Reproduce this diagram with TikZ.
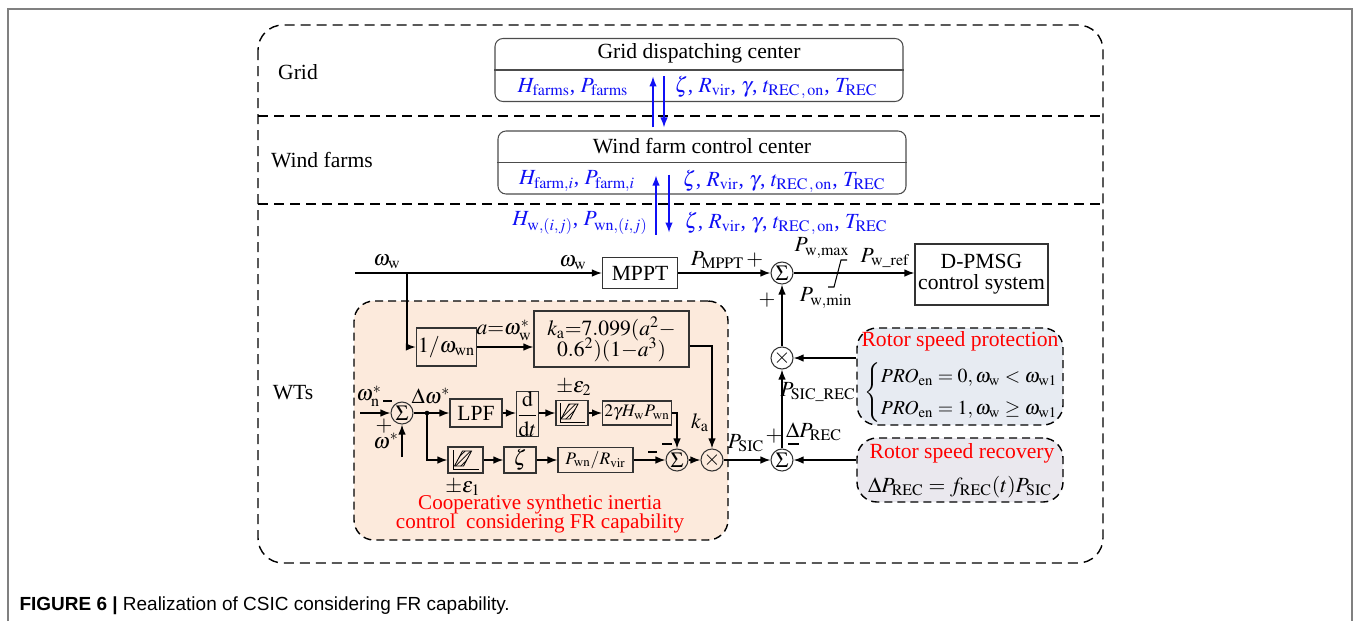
\documentclass[tikz,border=0pt]{standalone}
\usepackage{amsmath}
\usepackage{mathptmx}
\usepackage{fontspec}
\setmainfont{Liberation Serif}
\setsansfont{Liberation Sans}
\usetikzlibrary{arrows.meta,patterns}

\definecolor{csicfill}{HTML}{FCEADC}
\definecolor{protfill}{HTML}{E7EBF2}
\definecolor{recfill}{HTML}{EAE8EE}
\definecolor{parblue}{HTML}{1010F5}
\definecolor{framegrey}{HTML}{808080}

\begin{document}
\begin{tikzpicture}[x=0.2mm, y=-0.2mm, line width=0.8pt,
    >={Latex[length=2mm,width=1.5mm]},
    font=\fontsize{12.3}{14}\selectfont,
    blk/.style={draw=black!80, line width=0.6pt, inner sep=1pt, align=center},
    sumnode/.style={circle, draw=black!80, line width=0.6pt, minimum size=4.4mm, inner sep=0pt},
    centrebox/.style={draw=black!70, line width=0.6pt, rounded corners=1.6mm, minimum width=81.6mm, minimum height=12.6mm},
    zone/.style={dash pattern=on 2mm off 1.2mm, line width=0.8pt},
    areabox/.style={draw, dash pattern=on 1.6mm off 1mm, line width=0.8pt, rounded corners=4mm},
    param/.style={text=parblue},
    small/.style={font=\fontsize{10}{12}\selectfont},
    lbl/.style={inner sep=1pt},
    redtxt/.style={text=red, align=center, inner sep=1pt}]
    \useasboundingbox (0,0) rectangle (1356,621);

    % Page frame and caption
    \draw[framegrey, line width=0.3mm] (8,621) -- (8,9) -- (1352,9) -- (1352,621);
    \node[anchor=west, font=\sffamily\fontsize{10.8}{13}\selectfont] (caption) at (13,606)
        {\textbf{FIGURE 6 |} Realization of CSIC considering FR capability.};

    % Levels
    \draw[zone, rounded corners=5mm] (258,25) rectangle (1103,563);
    \draw[zone] (258,116) -- (1103,116);
    \draw[zone] (258,204) -- (1103,204);
    \node (lblgrid) at (298,72) {Grid};
    \node (lblfarms) at (322,160) {Wind farms};
    \node (lblwts) at (293,393) {WTs};

    % Dispatching and control centres
    \node[centrebox] (gdc) at (699,70) {};
    \node[centrebox] (wfc) at (702,162.5) {};
    \draw[black!70, line width=0.6pt] (gdc.west) -- (gdc.east);
    \draw[black!70, line width=0.6pt] (wfc.west) -- (wfc.east);
    \node (gdctitle) at (699,53) {Grid dispatching center};
    \node (wfctitle) at (702,146) {Wind farm control center};
    \node[param] (gdcup) at (573,87) {$H_{\mathrm{farms}}$, $P_{\mathrm{farms}}$};
    \node[param] (gdcdown) at (776,87) {$\zeta$, $R_{\mathrm{vir}}$, $\gamma$, $t_{\mathrm{REC\,,\,on}}$, $T_{\mathrm{REC}}$};
    \node[param] (wfcup) at (577,181) {$H_{\mathrm{farm},i}$, $P_{\mathrm{farm},i}$};
    \node[param] (wfcdown) at (784,181) {$\zeta$, $R_{\mathrm{vir}}$, $\gamma$, $t_{\mathrm{REC\,,\,on}}$, $T_{\mathrm{REC}}$};
    \node[param] (wtup) at (580,223) {$H_{\mathrm{w},(i,j)}$, $P_{\mathrm{wn},(i,j)}$};
    \node[param] (wtdown) at (786,223) {$\zeta$, $R_{\mathrm{vir}}$, $\gamma$, $t_{\mathrm{REC\,,\,on}}$, $T_{\mathrm{REC}}$};
    \draw[->, parblue] ([xshift=-9.8mm,yshift=0.6mm]wfc.north) -- ++(0,-51);
    \draw[<-, parblue] ([xshift=-7.6mm,yshift=0.6mm]wfc.north) -- ++(0,-51);
    \draw[->, parblue] ([xshift=-9.2mm,yshift=-8mm]wfc.south) -- ++(0,-59);
    \draw[->, parblue] ([xshift=-6.6mm,yshift=4mm]wfc.south) -- ++(0,58);

    % Areas
    \node[areabox, fill=csicfill, minimum width=74.8mm, minimum height=47.8mm] (csic) at (541,420.5) {};
    \node[areabox, fill=protfill, minimum width=41.2mm, minimum height=19.4mm] (prot) at (960,376.5) {};
    \node[areabox, fill=recfill, minimum width=41.2mm, minimum height=12.8mm] (rec) at (960,470) {};
    \node[redtxt] (prottitle) at (960,341) {Rotor speed protection};
    \node[inner sep=0pt, font=\fontsize{11.3}{13}\selectfont] (protcases) at (962,392)
        {$\left\{\def\arraystretch{1.4}\begin{array}{@{}l@{}}
            PRO_{\mathrm{en}} = 0, \omega_{\mathrm{w}} < \omega_{\mathrm{w1}} \\
            PRO_{\mathrm{en}} = 1, \omega_{\mathrm{w}} \geq \omega_{\mathrm{w1}}
         \end{array}\right.$};
    \node[redtxt] (rectitle) at (962,453) {Rotor speed recovery};
    \node[lbl] (receq) at (960,487) {$\Delta P_{\mathrm{REC}} = f_{\mathrm{REC}}(t)P_{\mathrm{SIC}}$};
    \node[redtxt, font=\fontsize{12}{11}\selectfont] (csictitle) at (540,514)
        {Cooperative synthetic inertia\\control\ \ considering FR capability};

    % Blocks
    \coordinate (win) at (355,273);
    \coordinate (wbr) at (407,273);
    \node[blk, minimum width=15mm, minimum height=6.2mm] (mppt) at (640,273) {MPPT};
    \node[sumnode] (sum1) at (782,273) {$\Sigma$};
    \node[blk, minimum width=26.6mm, minimum height=12.2mm] (dpmsg) at (981.5,274.5) {D-PMSG\\[-2pt]control system};
    \node[sumnode] (mulp) at (782,358) {$\times$};
    \node[sumnode] (sum3) at (782,460) {$\Sigma$};
    \node[sumnode] (mulk) at (712,460) {$\times$};
    \node[blk, minimum width=9.8mm, minimum height=7.6mm] (inv) at (446.5,347) {$1/\omega_{\mathrm{wn}}$};
    \node[blk, minimum width=31mm, minimum height=11.2mm] (ka) at (611.5,339)
        {$k_{\mathrm{a}}{=}7.099(a^{2}{-}$\\[-2pt]$0.6^{2})(1{-}a^{3})$};
    \coordinate (wn) at (360,413);
    \coordinate (wr) at (402,457);
    \coordinate (tap) at (427,413);
    \node[sumnode] (sin) at (402,413) {$\Sigma$};
    \node[blk, minimum width=10.4mm, minimum height=5.6mm] (lpf) at (476,413) {LPF};
    \node[blk, minimum width=4.2mm, minimum height=7.8mm, inner sep=0pt] (ddt) at (527.5,414)
        {$\displaystyle\frac{\mathrm{d}}{\mathrm{d}t}$};
    \node[blk, minimum width=6.4mm, minimum height=5mm] (db2) at (572,413) {};
    \node[blk, small, minimum width=12.8mm, minimum height=4.8mm] (gam) at (637,413) {$2\gamma H_{\mathrm{w}}P_{\mathrm{wn}}$};
    \node[blk, minimum width=7mm, minimum height=5.2mm] (db1) at (465.5,460) {};
    \node[blk, minimum width=6.4mm, minimum height=5.2mm] (zeta) at (520,460) {$\zeta$};
    \node[blk, small, minimum width=15mm, minimum height=5mm] (pr) at (595.5,460) {$P_{\mathrm{wn}}/R_{\mathrm{vir}}$};
    \node[sumnode] (sout) at (677,460) {$\Sigma$};

    % Dead-band symbols
    \foreach \db in {db1,db2} {
        \begin{scope}[shift={(\db.center)}, line width=0.5pt]
            \draw (-12,-10) -- (-12,9) -- (13,9);
            \draw[pattern=north east lines] (-11,6) -- (-3,-9) -- (6,-9) -- (-2,6) -- cycle;
        \end{scope}
    }

    % Limiter
    \draw[line width=0.6pt] (828,287) -- (834,287) -- (841,260) -- (847,260);

    % Signal lines
    \draw[->] (win) -- (mppt);
    \draw[->] (mppt) -- (sum1);
    \draw[->] (sum1) -- (sum1 -| dpmsg.west);
    \draw[->] (mulp) -- (sum1);
    \draw[->] (prot.west |- mulp) -- (mulp);
    \draw[->] (sum3) -- (mulp);
    \draw[->] (rec.west |- sum3) -- (sum3);
    \draw[->] (mulk) -- (sum3);
    \draw[->] ([yshift=-1.4mm]ka.east) -| (mulk);
    \draw[->] (wbr) |- (inv);
    \draw[->] (inv) -- (inv -| ka.west);
    \draw[->] (wn) -- (sin);
    \draw[->] (wr) -- (sin);
    \draw[->] (sin) -- (lpf);
    \draw[->] (lpf) -- (ddt.west |- lpf);
    \draw[->] (ddt.east |- db2) -- (db2);
    \draw[->] (db2) -- (gam);
    \draw[->] (gam.east) -| (sout);
    \fill (tap) circle (1.3pt);
    \draw[->] (tap) |- (db1);
    \draw[->] (db1) -- (zeta);
    \draw[->] (zeta) -- (pr);
    \draw[->] (pr) -- (sout);
    \draw[->] (sout) -- (mulk);

    % Signal labels
    \node[lbl] (lwin) at (387,262) {$\omega_{\mathrm{w}}$};
    \node[lbl] (lwm) at (573,263) {$\omega_{\mathrm{w}}$};
    \node[lbl] (lmppt) at (727,260) {$P_{\mathrm{MPPT}}\,+$};
    \node[lbl] (lmax) at (822,248) {$P_{\mathrm{w,max}}$};
    \node[lbl] (lmin) at (826,298) {$P_{\mathrm{w,min}}$};
    \node[lbl] (lref) at (885,258) {$P_{\mathrm{w\_ref}}$};
    \node[lbl] (lplus1) at (767,300) {$+$};
    \node[lbl] (lsicrec) at (818,392) {$P_{\mathrm{SIC\_REC}}$};
    \node[lbl] (lsic) at (746,443) {$P_{\mathrm{SIC}}$};
    \node[lbl] (lplus2) at (774,436) {$+$};
    \node[lbl] (ldrec) at (814,432) {$\Delta P_{\mathrm{REC}}$};
    \node[lbl] (la) at (504,330) {$a{=}\omega_{\mathrm{w}}^{*}$};
    \node[lbl] (lka) at (700,423) {$k_{\mathrm{a}}$};
    \node[lbl] (lwn) at (369,396) {$\omega_{\mathrm{n}}^{*}$};
    \node[lbl] (lplus3) at (384,426) {$+$};
    \node[lbl] (lwr) at (386,441) {$\omega^{*}$};
    \node[lbl] (ldw) at (431,396) {$\Delta\omega^{*}$};
    \node[lbl] (leps2) at (574,388) {$\pm\varepsilon_{2}$};
    \node[lbl] (leps1) at (463,488) {$\pm\varepsilon_{1}$};

    % Minus signs
    \draw (788,444) -- (799,444);
    \draw (383,401) -- (392,401);
    \draw (662,444) -- (672,444);
    \draw (648,452) -- (657,452);
\end{tikzpicture}
\end{document}
